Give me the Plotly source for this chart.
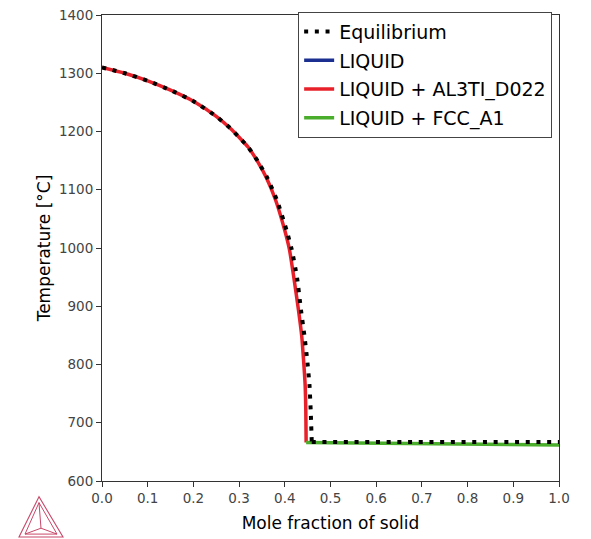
import plotly.graph_objects as go

# ---- data ----
red_x = [0.0, 0.05, 0.1, 0.15, 0.2, 0.25, 0.28, 0.3, 0.32, 0.34, 0.36, 0.38, 0.40, 0.41, 0.42, 0.43, 0.437, 0.441, 0.4445, 0.446, 0.4467]
red_T = [1310, 1300, 1287, 1271, 1252, 1226, 1206, 1190, 1173, 1149, 1120, 1082, 1030, 998, 948, 893, 849, 808, 765, 720, 666]

eq_curve_x = [0.0, 0.05, 0.1, 0.15, 0.2, 0.25, 0.28, 0.3, 0.32, 0.341, 0.362, 0.383, 0.404, 0.415, 0.427, 0.4355, 0.443, 0.449, 0.454, 0.4567, 0.459]
eq_curve_T = [1310, 1300, 1287, 1271, 1252, 1226, 1206, 1190, 1173, 1149, 1120, 1082, 1030, 998, 948, 893, 849, 808, 765, 720, 667]
eq_flat_x = [0.459, 1.0]
eq_flat_T = [667, 667]

green_x = [0.4467, 0.6, 0.8, 1.0]
green_T = [666.3, 665.0, 663.5, 661.9]

liquid_x = [None]
liquid_T = [None]

x_ticks = [0.0, 0.1, 0.2, 0.3, 0.4, 0.5, 0.6, 0.7, 0.8, 0.9, 1.0]
y_ticks = [600, 700, 800, 900, 1000, 1100, 1200, 1300, 1400]

FONT = "DejaVu Sans"
W, H = 591, 539
ML, MR, MT, MB = 102, 32, 7, 58
EQ_DASH = "4px,6.7px"

fig = go.Figure()
fig.add_trace(go.Scatter(x=red_x, y=red_T, mode="lines", name="LIQUID + AL3TI_D022",
                         line=dict(color="#e8202a", width=3.5, shape="spline", smoothing=0.6),
                         legendgroup="c", legendrank=3))
fig.add_trace(go.Scatter(x=green_x, y=green_T, mode="lines", name="LIQUID + FCC_A1",
                         line=dict(color="#4aad2c", width=3.5), legendgroup="d", legendrank=4))
fig.add_trace(go.Scatter(x=liquid_x, y=liquid_T, mode="lines", name="LIQUID",
                         line=dict(color="#1a2f8f", width=3.5), legendgroup="b", legendrank=2))
fig.add_trace(go.Scatter(x=eq_curve_x, y=eq_curve_T, mode="lines", name="Equilibrium",
                         line=dict(color="black", width=4, dash=EQ_DASH, shape="spline", smoothing=0.5),
                         legendgroup="a", legendrank=1))
fig.add_trace(go.Scatter(x=eq_flat_x, y=eq_flat_T, mode="lines", name="Equilibrium",
                         line=dict(color="black", width=4, dash=EQ_DASH),
                         legendgroup="a", legendrank=1, showlegend=False))

# logo (decoration) in pixel -> paper coords
pw, ph = W - ML - MR, H - MT - MB
def P(px, py):
    return (px - ML) / pw, (H - MB - py) / ph

def path(points, close=True):
    s = ""
    for i, (px, py) in enumerate(points):
        x, y = P(px, py)
        s += ("M" if i == 0 else "L") + f"{x:.5f},{y:.5f} "
    return s + ("Z" if close else "")

logo_col = "#c8486a"
shapes = [
    dict(type="path", xref="paper", yref="paper", path=path([(39, 497), (19, 538), (63, 538)]),
         line=dict(color=logo_col, width=1.1)),
    dict(type="path", xref="paper", yref="paper", path=path([(39, 503), (25, 535), (57, 535)]),
         line=dict(color=logo_col, width=1)),
    dict(type="path", xref="paper", yref="paper", path=path([(39, 503), (41, 529), (25, 535)], close=False),
         line=dict(color=logo_col, width=1)),
    dict(type="path", xref="paper", yref="paper", path=path([(41, 529), (57, 535)], close=False),
         line=dict(color=logo_col, width=1)),
]

axis_common = dict(showline=True, linecolor="#333", linewidth=1, mirror=True, ticks="outside",
                   ticklen=5, tickcolor="#333", showgrid=False, zeroline=False,
                   ticklabeloverflow="allow",
                   tickfont=dict(family=FONT, size=13.5, color="#444"))

fig.update_layout(
    width=W, height=H,
    margin=dict(l=ML, r=MR, t=MT, b=MB),
    paper_bgcolor="white", plot_bgcolor="white",
    font=dict(family=FONT, color="black"),
    xaxis=dict(range=[0, 1], tickvals=x_ticks, ticktext=[f"{v:.1f}" for v in x_ticks],
               title=dict(text="Mole fraction of solid", font=dict(family=FONT, size=17, color="black"), standoff=11),
               **axis_common),
    yaxis=dict(range=[600, 1400], tickvals=y_ticks,
               title=dict(text="Temperature [°C]", font=dict(family=FONT, size=17, color="black"), standoff=3),
               **axis_common),
    legend=dict(x=0.985, y=1.007, xanchor="right", yanchor="top", bgcolor="white",
                bordercolor="#444", borderwidth=1, font=dict(family=FONT, size=19, color="black"),
                tracegroupgap=1, itemwidth=30, traceorder="grouped"),
    shapes=shapes,
    showlegend=True,
)

fig.write_html("out.html", config={"displayModeBar": False},
               post_script="document.body.style.margin='0';")
